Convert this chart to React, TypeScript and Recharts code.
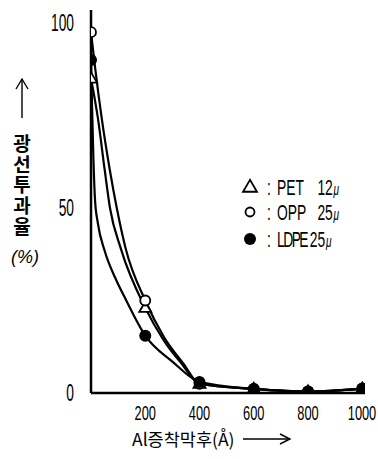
import { ComposedChart, Line, Scatter, XAxis, YAxis, Legend } from 'recharts'

// measured points (Al thickness in Å, transmittance in %)
const thickness = [0, 200, 400, 600, 800, 1000]
const petMarks = [85, 23, 2.5, 1.1, 0.4, 1.2]
const oppMarks = [97.5, 25, 2.5, 1.1, 0.4, 1.2]
const ldpeMarks = [90, 15.5, 3, 1.1, 0.4, 1.2]

// smooth curves
const petTraceX = [0, 26, 51, 70, 110, 200, 270, 333, 400, 600, 800, 1000]
const petTraceY = [85, 74, 60, 50, 39, 23, 14, 8, 2.5, 1.1, 0.4, 1.2]
const oppTraceX = [0, 15, 40, 70, 95, 128, 200, 270, 340, 400, 600, 800, 1000]
const oppTraceY = [97.5, 88, 74, 60, 50, 39, 25, 15, 8, 2.5, 1.1, 0.4, 1.2]
const ldpeTraceX = [0, 4, 9, 15, 25, 50, 90, 130, 200, 300, 400, 600, 800, 1000]
const ldpeTraceY = [90, 77, 63, 52, 46, 38.5, 31, 25, 15.5, 8.5, 3, 1.1, 0.4, 1.2]

const xTicks = [200, 400, 600, 800, 1000]
const yTicks = [0, 50, 100]

const seriesNames = ['PET', 'OPP', 'LDPE']
const filmThickness = ['12', '25', '25']

const FONT = "'Liberation Sans', Arial, sans-serif"
const KFONT = "'Noto Sans CJK KR', 'Noto Sans', sans-serif"

const toPoints = (xs: number[], ys: number[]) => xs.map((x, i) => ({ x, y: ys[i] }))

const petCurve = toPoints(petTraceX, petTraceY)
const oppCurve = toPoints(oppTraceX, oppTraceY)
const ldpeCurve = toPoints(ldpeTraceX, ldpeTraceY)
const petDots = toPoints(thickness, petMarks)
const oppDots = toPoints(thickness, oppMarks)
const ldpeDots = toPoints(thickness, ldpeMarks)

// condensed-looking text: Arial squeezed horizontally
function NarrowText({ x, y, size, sx, anchor = 'start', children }: any) {
  return (
    <text
      transform={`translate(${x},${y + size * 0.36}) scale(${sx},1)`}
      fontSize={size}
      fontFamily={FONT}
      textAnchor={anchor}
      fill="#000"
    >
      {children}
    </text>
  )
}

function YTick({ x, y, payload }: any) {
  return <NarrowText x={x} y={y} size={23} sx={0.6} anchor="end">{payload.value}</NarrowText>
}

function XTick({ x, y, payload }: any) {
  return <NarrowText x={x} y={y} size={20} sx={0.64} anchor="middle">{payload.value}</NarrowText>
}

function Triangle({ cx, cy, r = 6 }: any) {
  if (cx == null || cy == null) return null
  const h = r * 1.7
  return (
    <polygon
      points={`${cx},${cy - h * 0.6} ${cx - r},${cy + h * 0.4} ${cx + r},${cy + h * 0.4}`}
      fill="#fff"
      stroke="#000"
      strokeWidth={1.8}
    />
  )
}

function OpenDot({ cx, cy, r = 5 }: any) {
  if (cx == null || cy == null) return null
  return <circle cx={cx} cy={cy} r={r} fill="#fff" stroke="#000" strokeWidth={1.8} />
}

function FilledDot({ cx, cy, r = 6 }: any) {
  if (cx == null || cy == null) return null
  return <circle cx={cx} cy={cy} r={r} fill="#000" />
}

function LegendBox() {
  const rowY = [11, 36, 63]
  const numX = [80, 80, 68]
  const spacing = [0, 0, -2.5]
  const symbols = [
    <Triangle cx={10} cy={rowY[0]} r={7} />,
    <OpenDot cx={10} cy={rowY[1]} r={4.5} />,
    <FilledDot cx={10} cy={rowY[2]} r={6} />,
  ]
  return (
    <svg width={120} height={76}>
      {seriesNames.map((name, i) => (
        <g key={name}>
          {symbols[i]}
          <text
            transform={`translate(27,${rowY[i] + 8}) scale(0.63,1)`}
            fontSize={22}
            fontFamily={FONT}
            fill="#000"
          >
            <tspan x={0}>:</tspan>
            <tspan x={16} letterSpacing={spacing[i]}>{name}</tspan>
            <tspan x={numX[i]}>{filmThickness[i]}</tspan>
            <tspan fontSize={16} fontStyle="italic" dx={1}>μ</tspan>
          </text>
        </g>
      ))}
    </svg>
  )
}

export default function App() {
  return (
    <div style={{ position: 'absolute', left: 0, top: 0, width: 378, height: 459, background: '#fff' }}>
      <ComposedChart
        width={378}
        height={459}
        margin={{ top: 10, right: 13, bottom: 36, left: 0 }}
      >
        <XAxis
          type="number"
          dataKey="x"
          domain={[0, 1010]}
          ticks={xTicks}
          tick={<XTick />}
          tickLine={false}
          tickSize={0}
          tickMargin={20}
          height={30}
          axisLine={{ stroke: '#000', strokeWidth: 2.5 }}
          allowDataOverflow
        />
        <YAxis
          type="number"
          dataKey="y"
          domain={[0, 103.5]}
          ticks={yTicks}
          tick={<YTick />}
          tickLine={false}
          tickSize={0}
          tickMargin={17}
          width={91}
          axisLine={{ stroke: '#000', strokeWidth: 2.5 }}
          allowDataOverflow
        />
        <Line data={ldpeCurve} dataKey="y" type="monotone" stroke="#000" strokeWidth={2.2} dot={false} activeDot={false} isAnimationActive={false} />
        <Line data={petCurve} dataKey="y" type="monotone" stroke="#000" strokeWidth={2.2} dot={false} activeDot={false} isAnimationActive={false} />
        <Line data={oppCurve} dataKey="y" type="monotone" stroke="#000" strokeWidth={2.2} dot={false} activeDot={false} isAnimationActive={false} />
        <Scatter data={petDots} dataKey="y" shape={(p: any) => <Triangle cx={p.cx} cy={p.cy} />} isAnimationActive={false} />
        <Scatter data={oppDots} dataKey="y" shape={(p: any) => <OpenDot cx={p.cx} cy={p.cy} />} isAnimationActive={false} />
        <Scatter data={ldpeDots} dataKey="y" shape={(p: any) => <FilledDot cx={p.cx} cy={p.cy} />} isAnimationActive={false} />
        <Legend
          layout="horizontal"
          verticalAlign="middle"
          align="center"
          content={() => <LegendBox />}
          wrapperStyle={{ position: 'absolute', left: 240, top: 176, width: 120, height: 76 }}
        />
      </ComposedChart>

      {/* axis titles */}
      <svg
        width={378}
        height={459}
        style={{ position: 'absolute', left: 0, top: 0, pointerEvents: 'none' }}
      >
        <line x1={22} y1={79} x2={22} y2={118} stroke="#000" strokeWidth={1.4} />
        <polyline points="16,89 22,79 28,89" fill="none" stroke="#000" strokeWidth={1.4} />
        <text
          x={22}
          y={134}
          fontSize={19}
          fontWeight={700}
          fontFamily={KFONT}
          letterSpacing={1.8}
          style={{ writingMode: 'vertical-rl', textOrientation: 'upright' }}
        >
          광선투과율
        </text>
        <text x={25} y={263} fontSize={18} fontFamily={FONT} textAnchor="middle" fontStyle="italic">(%)</text>

        <text x={132} y={446} fontSize={17.5} fontFamily={KFONT}>Al증착막후(Å)</text>
        <line x1={243} y1={439} x2={290} y2={439} stroke="#000" strokeWidth={1.4} />
        <polyline points="280,434 290,439 280,444" fill="none" stroke="#000" strokeWidth={1.4} />
      </svg>
    </div>
  )
}
